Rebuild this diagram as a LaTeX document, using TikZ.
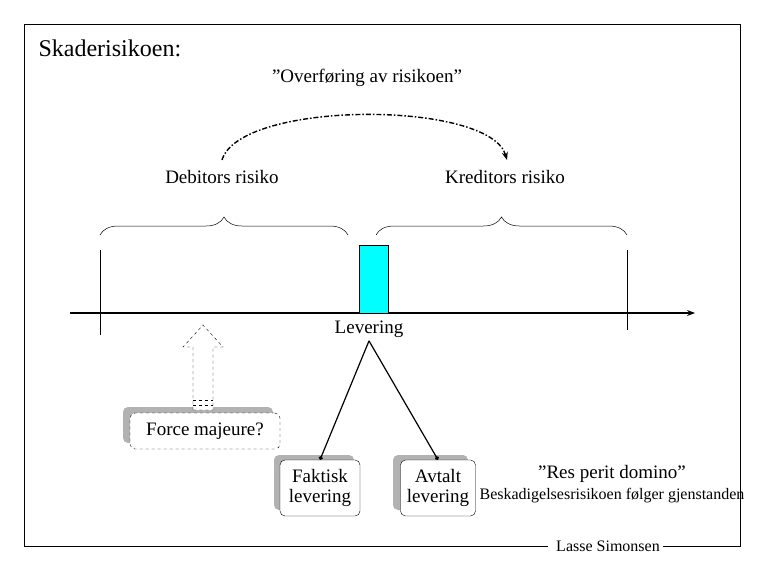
\documentclass[tikz,border=0pt]{standalone}
\usepackage{fontspec}
\setmainfont{Liberation Serif}
\usetikzlibrary{arrows.meta,decorations.pathreplacing}
\definecolor{aqua}{RGB}{0,255,255}
\tikzset{
  shadowbox/.style={draw=black,rounded corners=5pt,fill=white,align=center,inner sep=2pt},
  lbl/.style={font=\fontsize{19}{20}\selectfont},
  brc/.style={decorate,decoration={brace,amplitude=18pt,raise=0pt},line width=0.5pt},
}
\begin{document}
\begin{tikzpicture}[x=1pt,y=-1pt]
\useasboundingbox (0,0) rectangle (765,570);

%Frame
\draw (548,546) -- (24,546) -- (24,24) -- (740,24) -- (740,546) -- (663,546);
\node (sign) at (608,546) [font=\fontsize{16}{17}\selectfont] {Lasse Simonsen};
\node (title) at (35,48) [anchor=west,font=\fontsize{24}{26}\selectfont] {Skaderisikoen:};

% Text Node
\node (over) at (367,78) [lbl] {”Overføring av risikoen”};
\node (deb) at (222,177) [lbl] {Debitors risiko};
\node (kred) at (505,177) [lbl] {Kreditors risiko};

%Dash-dot arc
\draw [line width=1.4pt,dash pattern={on 5pt off 2pt on 1.5pt off 2pt},-{Stealth[length=8pt]}]
  (222,160) .. controls (240,100) and (490,100) .. (507,160);

%Braces
\draw [brc] (100,235) -- (348,235);
\draw [brc] (376,235) -- (627,235);

%Axis
\draw (100,250) -- (100,335);
\draw (627,250) -- (627,330);
\coordinate (a0) at (70,313);
\coordinate (a1) at (695,313);
\draw [line width=1.2pt,-{Stealth[length=8pt]}] (a0) -- (a1);
\draw [fill=aqua] (359,245) rectangle (388,313);
\node (lev) at (369,329) [lbl] {Levering};

%Force majeure
\fill [gray!60,rounded corners=5pt] (123,407) rectangle (273,443);
\node (force) at (205,431) [shadowbox,dashed,minimum width=150pt,minimum height=36pt,lbl] {Force majeure?};
\draw [dashed,fill=white] (193,410) -- (193,347) -- (183,347) -- (203,325) -- (223,347) -- (213,347) -- (213,410) -- cycle;
\draw [dashed] (193,400) -- (213,400) (193,405) -- (213,405);

%Delivery boxes
\fill [gray!60,rounded corners=5pt] (274,455) rectangle (354,510);
\node (fakt) at (320,488) [shadowbox,minimum width=80pt,minimum height=56pt,lbl] {Faktisk\\levering};
\fill [gray!60,rounded corners=5pt] (393,455) rectangle (468,510);
\node (avt) at (438,488) [shadowbox,minimum width=75pt,minimum height=56pt,lbl] {Avtalt\\levering};
\draw [line width=1.2pt,-{Circle[length=4pt]}] (lev.south) -- (fakt.north);
\draw [line width=1.2pt,-{Circle[length=4pt]}] (lev.south) -- (avt.north);

\node (res) at (612,474) [lbl] {”Res perit domino”};
\node (besk) at (612,496) [font=\fontsize{16}{17}\selectfont] {Beskadigelsesrisikoen følger gjenstanden};
\end{tikzpicture}
\end{document}
